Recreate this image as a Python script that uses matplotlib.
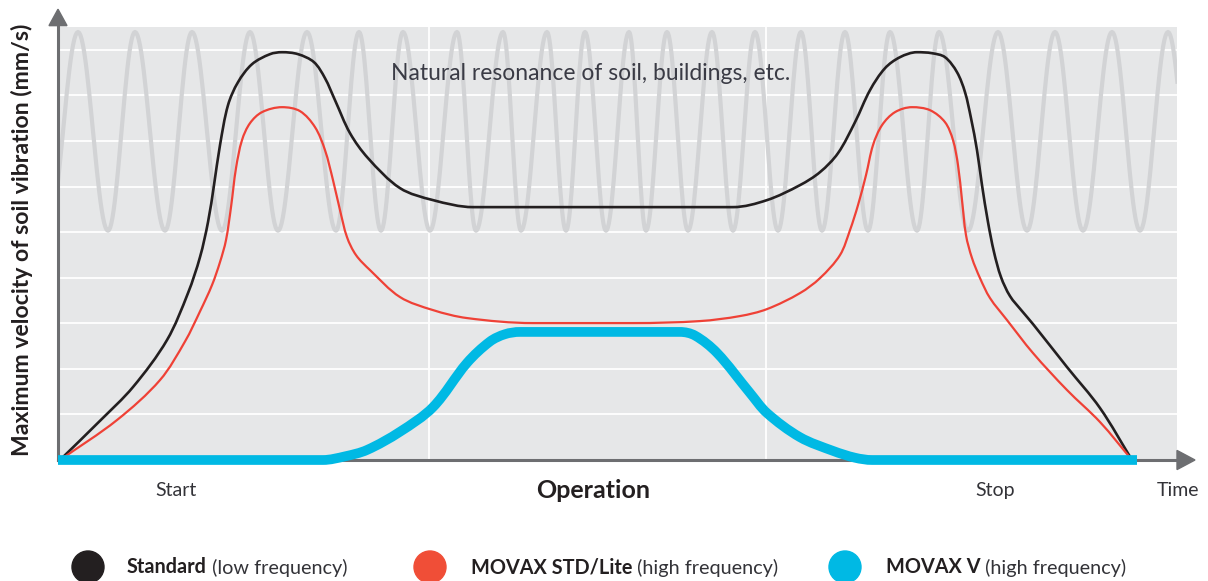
# Imported the necessary modules
import numpy as np
import matplotlib
matplotlib.use('Agg')
import matplotlib.pyplot as plt
from matplotlib.patches import Polygon, Circle, PathPatch
from matplotlib.path import Path

plt.rcParams['font.family'] = ['Lato', 'DejaVu Sans']

# Time positions and vibration levels (0-100 level scale)
standard_x = [60, 100, 133, 167, 188, 200, 208, 214, 220, 228, 238, 252, 270, 282, 298, 314, 325,
              335, 350, 368, 400, 433, 473, 733, 767, 800, 820, 838, 855, 870, 885, 900, 917,
              932, 945, 957, 965, 971, 977, 982, 988, 994, 1001, 1010, 1022, 1033, 1067, 1100,
              1132]
standard_y = [0, 8.6, 16.01, 26.32, 36.62, 44.52, 52.19, 60.31, 69.08, 77.85, 82.89, 86.84,
              89.04, 89.47, 89.04, 87.28, 83.77, 78.95, 71.71, 66.23, 59.65, 57.02, 55.48, 55.48,
              57.02, 60.31, 63.16, 67.32, 74.12, 81.14, 85.96, 88.38, 89.47, 89.25, 88.38, 85.09,
              80.70, 75.0, 67.98, 60.31, 52.19, 45.61, 40.13, 35.96, 32.68, 29.82, 20.39, 11.40, 0]

movax_std_x = [60, 117, 160, 185, 200, 212, 220, 226, 231, 236, 242, 250, 262, 282, 300, 315,
               325, 333, 340, 347, 356, 370, 400, 433, 467, 533, 633, 700, 740, 767, 800, 820,
               840, 850, 858, 866, 873, 882, 895, 912, 930, 945, 953, 958, 962, 966, 972, 980,
               990, 1007, 1033, 1067, 1100, 1132]
movax_std_y = [0, 8.77, 17.54, 26.0, 32.6, 38.38, 43.42, 48.25, 55.48, 64.04, 70.18, 73.90,
               76.32, 77.41, 76.54, 73.03, 67.98, 61.40, 54.82, 48.90, 44.96, 41.67, 35.75, 32.89,
               31.14, 30.04, 30.04, 30.48, 31.58, 33.11, 36.62, 39.91, 44.96, 50.44, 55.92, 62.50,
               69.08, 73.46, 76.32, 77.41, 76.75, 74.12, 70.18, 64.69, 57.02, 49.34, 44.30, 39.91,
               35.53, 30.70, 23.46, 15.35, 8.33, 0]

movax_v_x = [58, 323, 345, 367, 400, 433, 467, 490, 505, 520, 680, 695, 717, 750, 767, 800, 833,
             855, 872, 1137]
movax_v_y = [0, 0, 0.8, 2.2, 6.2, 11.6, 21.3, 26.0, 27.6, 28.1, 28.1, 27.3, 23.5, 14.7, 10.3,
             5.0, 2.0, 0.5, 0, 0]

# Peaks and troughs of the natural resonance wave in the background
resonance_peaks = [78, 135, 192, 250, 307, 359, 403, 457, 503, 547, 585, 629, 667, 712, 755,
                   801, 845, 890, 939, 998, 1055, 1112, 1168]
resonance_troughs = [48, 108, 165, 222, 278, 336, 381, 430, 476, 521, 566, 606, 646, 688, 733,
                     778, 822, 868, 917, 968, 1027, 1083, 1140, 1196]
resonance_high = 93.9
resonance_low = 50.3

# Vertical marks for the start and end of operation
operation_marks = [429, 766]

# Labels under the time axis
phase_labels = ['Start', 'Stop', 'Time']
phase_x = [176, 995, 1178]

# Legend entries
legend_names = ['Standard', 'MOVAX STD/Lite', 'MOVAX V']
legend_notes = [' (low frequency)', ' (high frequency)', ' (high frequency)']
legend_colors = ['#231f20', '#f04e37', '#00b9e4']

text_color = '#333338'
axis_color = '#6d6e71'


# Function to turn the read points into a smooth bezier path
def smooth_path(xs, ys, yscale=4.56):
    """Chord-length Catmull-Rom curve through the points, as cubic bezier segments.
    Points that are local peaks, troughs or flat get a level tangent so nothing overshoots."""
    pts = np.column_stack([np.asarray(xs, float), np.asarray(ys, float) * yscale])
    d = np.hypot(*np.diff(pts, axis=0).T)
    n = len(pts)
    tang = np.zeros_like(pts)
    tang[0] = (pts[1] - pts[0]) / d[0]
    tang[-1] = (pts[-1] - pts[-2]) / d[-1]
    for i in range(1, n - 1):
        tang[i] = (pts[i + 1] - pts[i - 1]) / (d[i - 1] + d[i])
        if (pts[i, 1] - pts[i - 1, 1]) * (pts[i + 1, 1] - pts[i, 1]) <= 0:
            tang[i, 1] = 0
    verts = [pts[0]]
    codes = [Path.MOVETO]
    for i in range(n - 1):
        verts += [pts[i] + tang[i] * d[i] / 3, pts[i + 1] - tang[i + 1] * d[i] / 3, pts[i + 1]]
        codes += [Path.CURVE4] * 3
    verts = np.array(verts)
    verts[:, 1] /= yscale
    return Path(verts, codes)


# Builds the resonance wave from its extrema with half cosine swings
extrema = sorted([(x, resonance_high) for x in resonance_peaks] +
                 [(x, resonance_low) for x in resonance_troughs])
wave_x, wave_y = [], []
t = np.linspace(0, 1, 25)
for (x0, y0), (x1, y1) in zip(extrema[:-1], extrema[1:]):
    wave_x.extend(x0 + (x1 - x0) * t)
    wave_y.extend(y0 + (y1 - y0) * (1 - np.cos(np.pi * t)) / 2)

# Creates main plot
fig = plt.figure(figsize=(12.08, 5.81), dpi=100)
ax = fig.add_axes([58 / 1208, 121 / 581, 1119 / 1208, 433 / 581])
ax.set_facecolor('#e6e7e8')
ax.set_xlim(58, 1177)
ax.set_ylim(0, 95)

# White grid
ax.set_yticks(np.arange(10, 100, 10))
ax.set_xticks(operation_marks)
ax.grid(True, color='white', linewidth=1.3)
ax.set_axisbelow(True)
ax.tick_params(length=0, labelbottom=False, labelleft=False)
for side in ax.spines:
    ax.spines[side].set_visible(False)

# Draws the curves
ax.plot(wave_x, wave_y, color='#d2d3d5', linewidth=3, zorder=2)
ax.add_patch(PathPatch(smooth_path(standard_x, standard_y), facecolor='none',
                       edgecolor='#231f20', linewidth=1.9, zorder=4))
ax.add_patch(PathPatch(smooth_path(movax_std_x, movax_std_y), facecolor='none',
                       edgecolor='#ef4136', linewidth=1.6, zorder=4))

# Axis lines with arrow heads
ax.plot([58, 58], [0, 96], color=axis_color, linewidth=2.2, clip_on=False, zorder=3)
ax.plot([58, 1180], [0, 0], color=axis_color, linewidth=2.2, clip_on=False, zorder=3)
ax.add_patch(Polygon([[49, 95.3], [67, 95.3], [58, 98.9]], closed=True, color=axis_color,
                     clip_on=False, zorder=3))
ax.add_patch(Polygon([[1177, -2.1], [1177, 2.1], [1195, 0]], closed=True, color=axis_color,
                     clip_on=False, zorder=3))

ax.add_patch(PathPatch(smooth_path(movax_v_x, movax_v_y), facecolor='none',
                       edgecolor='#00b9e4', linewidth=7, capstyle='butt',
                       clip_on=False, zorder=5))

# Text inside and around the plot
ax.text(591, 84.9, 'Natural resonance of soil, buildings, etc.', ha='center', va='center',
        fontsize=16.5, color='#3a3b45', zorder=6)
ax.set_ylabel('Maximum velocity of soil vibration (mm/s)', fontsize=16.6, fontweight='bold',
              color='#231f20')
ax.yaxis.set_label_coords(-0.022, 0.508)
for label, xpos in zip(phase_labels, phase_x):
    ax.text(xpos, -6.8, label, ha='center', va='center', fontsize=14, color=text_color,
            clip_on=False)
ax.text(593, -6.8, 'Operation', ha='center', va='center', fontsize=18, fontweight='bold',
        color='#231f20', clip_on=False)

# Legend drawn in pixel coordinates across the bottom
leg = fig.add_axes([0, 0, 1, 1])
leg.set_xlim(0, 1208)
leg.set_ylim(581, 0)
leg.axis('off')
leg.patch.set_alpha(0)
for i, (name, note, color) in enumerate(zip(legend_names, legend_notes, legend_colors)):
    cx = [88, 430, 845][i]
    tx = [127, 471, 886][i]
    leg.add_patch(Circle((cx, 567), 16, color=color, clip_on=False))
    bold = leg.text(tx, 567, name, ha='left', va='center', fontsize=14.3, fontweight='bold',
                    color='#231f20')
    leg.annotate(note, xy=(1, 0), xycoords=bold, ha='left', va='bottom', fontsize=14.3,
                 color=text_color)

fig.savefig('out.png', dpi=100)
